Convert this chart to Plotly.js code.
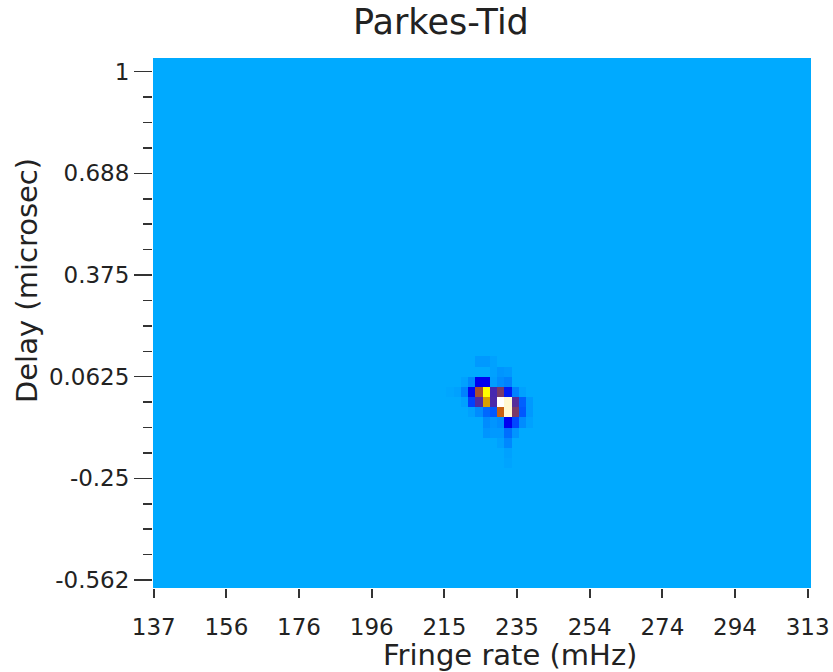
<!DOCTYPE html>
<html>
<head>
<meta charset="utf-8">
<script src="https://cdn.plot.ly/plotly-3.0.1.min.js"></script>
<style>html,body{margin:0;padding:0;background:#fff;}#chart{width:833px;height:672px;}</style>
</head>
<body>
<div id="chart"></div>
<script>
// Fringe-rate grid (mHz): first bin centre and bin width
const rateStart = 136.60;
const rateStep = 1.9556;
const rateBins = 92;
// Delay grid (microsec): first bin centre and bin width
const delayStart = -0.578125;
const delayStep = 0.03125;
const delayBins = 53;

// Background (noise floor) amplitude, normalised
const floorAmp = 0;

// Normalised fringe amplitude around the peak.
// Rows go from higher delay (top) to lower delay (bottom).
const peakRow0 = 22;   // delay-bin index of the first (top) row
const peakCol0 = 41;   // rate-bin index of the first column
const peakAmp = [
  [0,    0,    0,    0,    0.04, 0.04, 0.02, 0,    0,    0,    0,    0   ],
  [0,    0,    0,    0,    0,    0,    0.02, 0.05, 0.04, 0,    0,    0   ],
  [0,    0,    0.02, 0.08, 0.25, 0.25, 0.03, 0.07, 0.09, 0,    0,    0   ],
  [0.01, 0.02, 0.09, 0.24, 0.55, 0.80, 0.35, 0.45, 0.22, 0.09, 0.02, 0   ],
  [0,    0,    0.02, 0.18, 0.37, 0.72, 0.36, 1.00, 0.92, 0.38, 0.14, 0.04],
  [0,    0,    0,    0.02, 0.07, 0.13, 0.15, 0.64, 0.92, 0.45, 0.15, 0.04],
  [0,    0,    0,    0,    0,    0.07, 0.05, 0.07, 0.25, 0.17, 0.07, 0.02],
  [0,    0,    0,    0,    0,    0.05, 0.04, 0.04, 0.12, 0.05, 0,    0   ],
  [0,    0,    0,    0,    0,    0,    0,    0.02, 0.08, 0,    0,    0   ],
  [0,    0,    0,    0,    0,    0,    0,    0,    0.02, 0,    0,    0   ],
  [0,    0,    0,    0,    0,    0,    0,    0,    0.015,0,    0,    0   ]
];

// Axis ticks
const rateTickVals = [137, 156.56, 176.11, 195.67, 215.22, 234.78, 254.33, 273.89, 293.44, 313];
const rateTickText = ['137', '156', '176', '196', '215', '235', '254', '274', '294', '313'];
const delayTickVals = [1, 0.6875, 0.375, 0.0625, -0.25, -0.5625];
const delayTickText = ['1', '0.688', '0.375', '0.0625', '-0.25', '-0.562'];
const delayMinorVals = [0.921875, 0.84375, 0.765625, 0.609375, 0.53125, 0.453125,
  0.296875, 0.21875, 0.140625, -0.015625, -0.09375, -0.171875,
  -0.328125, -0.40625, -0.484375];

// Build the full amplitude grid (rows: ascending delay)
const z = [];
for (let i = 0; i < delayBins; i++) {
  const row = [];
  for (let j = 0; j < rateBins; j++) row.push(floorAmp);
  z.push(row);
}
for (let r = 0; r < peakAmp.length; r++) {
  const i = peakRow0 - r;
  for (let c = 0; c < peakAmp[r].length; c++) {
    const v = peakAmp[r][c];
    if (v > 0) z[i][peakCol0 + c] = v;
  }
}

const colors = [
  [0.00, '#00aaff'], [0.03, '#009dff'], [0.08, '#0088ff'], [0.13, '#0068ff'],
  [0.18, '#0040ff'], [0.25, '#0000f0'], [0.35, '#4628b0'], [0.45, '#7a3a68'],
  [0.55, '#a85030'], [0.64, '#c86010'], [0.72, '#d8a000'], [0.80, '#ffff00'],
  [0.92, '#fff8d0'], [1.00, '#ffffff']
];

const trace = {
  type: 'heatmap',
  z: z,
  x0: rateStart, dx: rateStep,
  y0: delayStart, dy: delayStep,
  zmin: 0, zmax: 1,
  colorscale: colors,
  showscale: false,
  hoverongaps: false
};

const font = 'DejaVu Sans, Verdana, sans-serif';
const layout = {
  width: 833, height: 672,
  margin: {l: 153, r: 22, t: 58, b: 84, pad: 0},
  paper_bgcolor: '#ffffff',
  plot_bgcolor: '#00aaff',
  font: {family: font, color: '#222222', size: 23},
  xaxis: {
    range: [136.8, 313.9],
    tickmode: 'array', tickvals: rateTickVals, ticktext: rateTickText,
    ticks: 'outside', ticklen: 9, tickwidth: 2, tickcolor: '#333333',
    ticklabelstandoff: 9,
    showgrid: false, zeroline: false, showline: false,
    tickfont: {family: font, size: 23, color: '#222222'}
  },
  yaxis: {
    range: [-0.587, 1.042],
    tickmode: 'array', tickvals: delayTickVals, ticktext: delayTickText,
    ticks: 'outside', ticklen: 18, tickwidth: 1.5, tickcolor: '#333333',
    minor: {tickmode: 'array', tickvals: delayMinorVals, ticks: 'outside', ticklen: 9, tickwidth: 1.5, tickcolor: '#333333', showgrid: false},
    showgrid: false, zeroline: false, showline: false,
    tickfont: {family: font, size: 23, color: '#222222'}
  },
  annotations: [
    {text: 'Parkes-Tid', xref: 'paper', yref: 'paper', x: 0.4377, y: 1.068,
     xanchor: 'center', yanchor: 'middle', showarrow: false,
     font: {family: font, size: 35, color: '#222222'}},
    {text: 'Fringe rate (mHz)', xref: 'paper', yref: 'paper', x: 0.5426, y: -0.127,
     xanchor: 'center', yanchor: 'middle', showarrow: false,
     font: {family: font, size: 29, color: '#222222'}},
    {text: 'Delay (microsec)', xref: 'paper', yref: 'paper', x: -0.1915, y: 0.581,
     xanchor: 'center', yanchor: 'middle', showarrow: false, textangle: -90,
     font: {family: font, size: 29, color: '#222222'}}
  ]
};

Plotly.newPlot('chart', [trace], layout, {displayModeBar: false, staticPlot: true});
</script>
</body>
</html>
